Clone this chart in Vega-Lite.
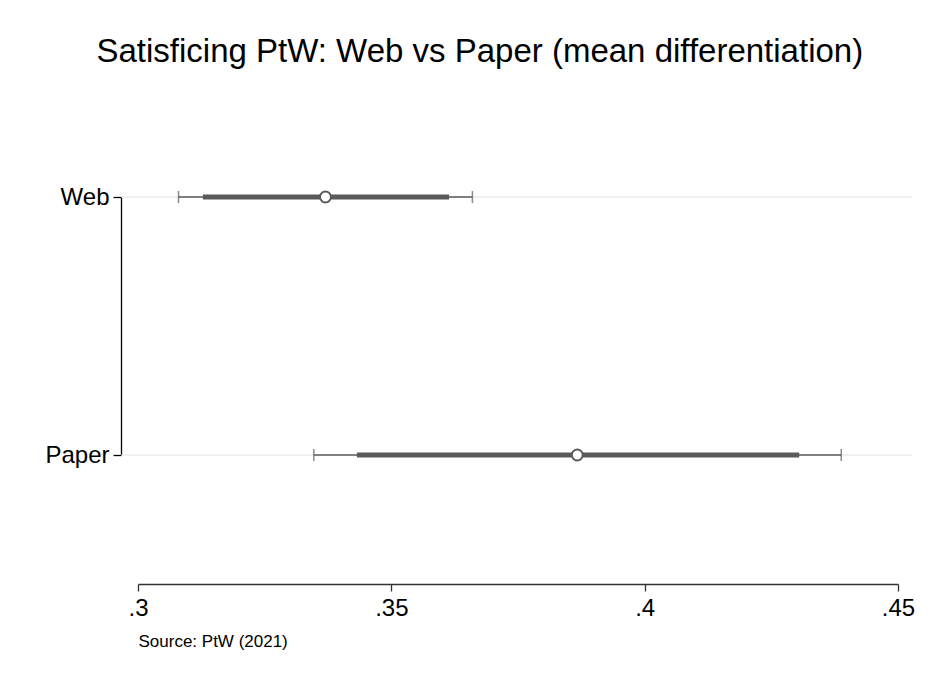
{
  "$schema": "https://vega.github.io/schema/vega-lite/v6.json",
  "autosize": {"type": "none"},
  "width": 791,
  "height": 258,
  "padding": {"left": 121, "top": 197, "right": 18, "bottom": 222},
  "background": "white",
  "config": {
    "font": "Liberation Sans",
    "view": {"stroke": null},
    "axis": {"labelFont": "Liberation Sans", "titleFont": "Liberation Sans"}
  },
  "title": {
    "text": "Satisficing PtW: Web vs Paper (mean differentiation)",
    "font": "Liberation Sans",
    "fontSize": 33,
    "fontWeight": "normal",
    "color": "black",
    "anchor": "middle",
    "frame": "bounds",
    "offset": 116
  },
  "data": {
    "values": [
      {"group": "Web", "est": 0.3370, "lo_in": 0.3128, "hi_in": 0.3614, "lo_out": 0.3080, "hi_out": 0.3660},
      {"group": "Paper", "est": 0.3867, "lo_in": 0.3432, "hi_in": 0.4305, "lo_out": 0.3347, "hi_out": 0.4388}
    ]
  },
  "encoding": {
    "y": {
      "field": "group",
      "type": "nominal",
      "sort": ["Web", "Paper"],
      "scale": {"type": "point", "padding": 0},
      "axis": {
        "title": null,
        "labelFontSize": 24,
        "labelColor": "black",
        "labelPadding": 4,
        "tickSize": 8,
        "tickColor": "black",
        "tickWidth": 1.3,
        "domainColor": "black",
        "domainWidth": 1.3,
        "grid": false
      }
    }
  },
  "layer": [
    {
      "mark": {"type": "rule", "color": "#e2e2e2", "strokeWidth": 1},
      "encoding": {}
    },
    {
      "mark": {"type": "rule", "color": "#5a5a5a", "strokeWidth": 1.5},
      "encoding": {
        "x": {
          "field": "lo_out",
          "type": "quantitative",
          "scale": {"domain": [0.3, 0.45], "range": [17, 777], "nice": false, "zero": false},
          "axis": {
            "values": [0.3, 0.35, 0.4, 0.45],
            "format": ".2~f",
            "labelExpr": "replace(datum.label, /^0/, '')",
            "labelFlush": false,
            "offset": 129,
            "grid": false,
            "labelFontSize": 24,
            "labelColor": "black",
            "labelPadding": 5,
            "tickSize": 7,
            "tickColor": "#333333",
            "tickWidth": 1.3,
            "domainColor": "#333333",
            "domainWidth": 1.3,
            "title": "Source: PtW (2021)",
            "titleFontSize": 17,
            "titleFontWeight": "normal",
            "titleColor": "black",
            "titleAnchor": "start",
            "titleAlign": "left",
            "titleBaseline": "alphabetic",
            "titleX": 17,
            "titleY": 62
          }
        },
        "x2": {"field": "hi_out"}
      }
    },
    {
      "mark": {"type": "rule", "color": "#5a5a5a", "strokeWidth": 5},
      "encoding": {
        "x": {"field": "lo_in", "type": "quantitative"},
        "x2": {"field": "hi_in"}
      }
    },
    {
      "mark": {"type": "tick", "orient": "vertical", "color": "#5a5a5a", "thickness": 1.5, "size": 12},
      "encoding": {"x": {"field": "lo_out", "type": "quantitative"}}
    },
    {
      "mark": {"type": "tick", "orient": "vertical", "color": "#5a5a5a", "thickness": 1.5, "size": 12},
      "encoding": {"x": {"field": "hi_out", "type": "quantitative"}}
    },
    {
      "mark": {"type": "point", "shape": "circle", "filled": false, "fill": "white", "fillOpacity": 1, "stroke": "#5a5a5a", "strokeWidth": 2, "size": 120, "opacity": 1},
      "encoding": {"x": {"field": "est", "type": "quantitative"}}
    }
  ]
}
